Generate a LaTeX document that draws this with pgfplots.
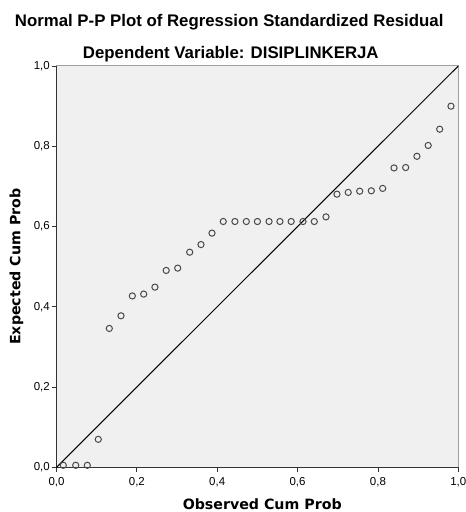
\documentclass[border=0pt]{standalone}
\usepackage{fontspec}
\setmainfont{Liberation Sans}
\newfontfamily\labelfont{DejaVu Sans}
\usepackage{pgfplots}
\pgfplotsset{compat=1.18}

\definecolor{plotbg}{HTML}{F0F0F0}
\definecolor{frame}{HTML}{A0A0A0}
\definecolor{markgray}{HTML}{4A4A4A}

\begin{document}
\begin{tikzpicture}
\path[use as bounding box] (0,0) rectangle (466bp,512bp);

% titles
\node[anchor=base, font=\fontsize{16.8bp}{20bp}\selectfont\bfseries] at (229.2bp,485.3bp)
  {Normal P-P Plot of Regression Standardized Residual};
\node[anchor=base, font=\fontsize{16.8bp}{20bp}\selectfont\bfseries] at (230.8bp,453.7bp)
  {Dependent Variable: DISIPLINKERJA};

\begin{axis}[
  at={(56.5bp,44.7bp)}, anchor=south west,
  scale only axis,
  width=401.8bp, height=401.3bp,
  xmin=0, xmax=1, ymin=0, ymax=1,
  axis background/.style={fill=plotbg, draw=frame, line width=1bp},
  axis x line*=bottom, axis y line*=left,
  axis line style={black!80, line width=1.1bp},
  xtick={0,0.2,0.4,0.6,0.8,1}, ytick={0,0.2,0.4,0.6,0.8,1},
  tick align=outside,
  major tick length=4.5bp,
  tick style={black!80, line width=0.8bp},
  ticklabel style={font=\fontsize{11.5bp}{13bp}\selectfont, inner sep=2bp},
  xticklabel style={yshift=-3bp},
  /pgf/number format/.cd, fixed, fixed zerofill, precision=1, use comma, assume math mode=true,
  /pgfplots/.cd,
  xlabel={Observed Cum Prob},
  ylabel={Expected Cum Prob},
  label style={font=\labelfont\fontsize{14.2bp}{17bp}\selectfont\bfseries, inner sep=0pt},
  xlabel style={at={(axis description cs:0.512,-0.1055)}, anchor=base},
  ylabel style={at={(axis description cs:-0.0896,0.5)}, anchor=base},
]
% reference line
\addplot[black, line width=1bp] coordinates {(0,0) (1,1)};
% observed vs expected cumulative probability
\addplot[only marks, mark=o, mark size=3.1bp, mark options={draw=markgray, line width=1bp}] coordinates {
(0.0169,0.005) (0.0478,0.005) (0.0767,0.005) (0.1040,0.0697)
(0.1314,0.346) (0.1605,0.3775) (0.1887,0.427) (0.2170,0.4316)
(0.2450,0.449) (0.2730,0.4906) (0.3016,0.4963) (0.3315,0.536)
(0.3596,0.555) (0.3870,0.5835) (0.4150,0.6125) (0.4440,0.6125)
(0.4724,0.6125) (0.5000,0.6125) (0.5290,0.6125) (0.5560,0.6125)
(0.5840,0.6125) (0.6135,0.6125) (0.6416,0.6125) (0.6707,0.624)
(0.6980,0.6807) (0.7260,0.685) (0.7546,0.688) (0.7835,0.689)
(0.8118,0.695) (0.8400,0.746) (0.8690,0.747) (0.8970,0.775)
(0.9250,0.802) (0.9537,0.8425) (0.9818,0.8999)
};
\end{axis}
\end{tikzpicture}
\end{document}
